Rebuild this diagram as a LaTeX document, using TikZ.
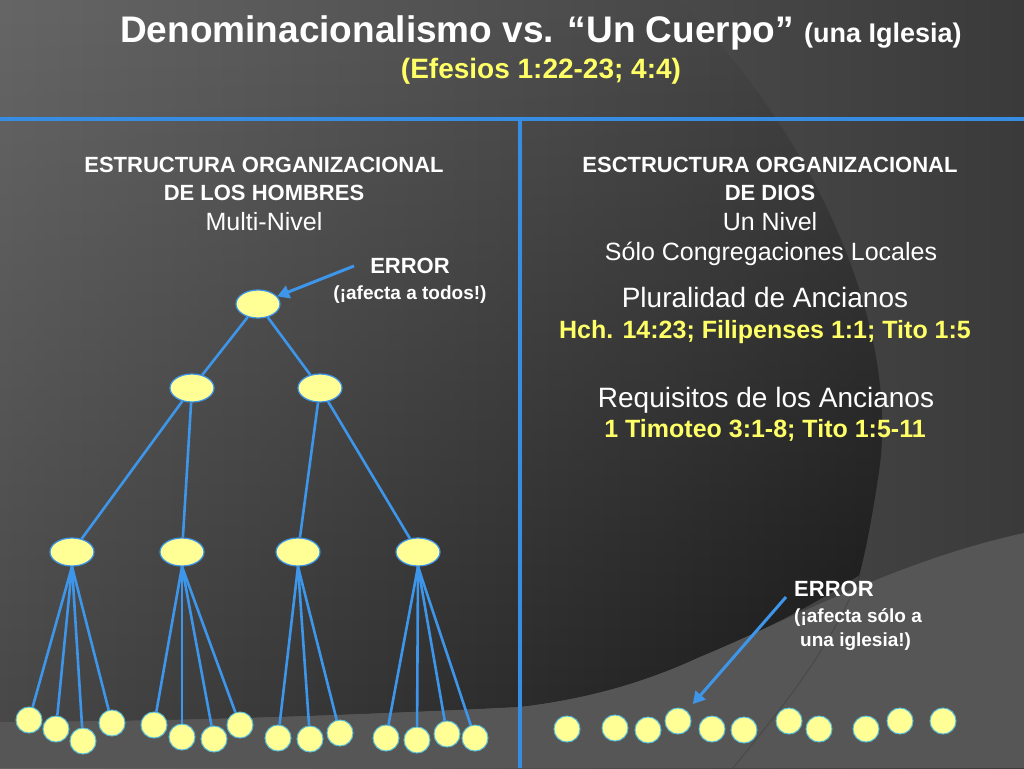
\documentclass[tikz,border=0pt]{standalone}
\usepackage{fontspec}
\setmainfont{Liberation Sans}
\usetikzlibrary{positioning,shapes.geometric,arrows.meta,fadings}

\definecolor{bluelin}{RGB}{62,150,235}
\definecolor{sepblue}{RGB}{55,140,228}
\definecolor{leafring}{RGB}{90,190,215}
\definecolor{pale}{RGB}{255,255,150}
\definecolor{refyel}{RGB}{255,255,102}
\definecolor{bgleft}{RGB}{102,102,102}
\definecolor{bgright}{RGB}{58,58,58}
\definecolor{darkleft}{RGB}{72,72,72}
\definecolor{darkright}{RGB}{22,22,22}
\definecolor{band}{RGB}{86,86,86}

\newcommand{\fs}[1]{\fontsize{#1}{#1}\selectfont}

\tikzset{
  hdr/.style={anchor=base, text=white, font=\bfseries\fs{22}},
  lvl/.style={anchor=base, text=white, font=\fs{25}},
  big/.style={anchor=base, text=white, font=\fs{28}},
  ref/.style={anchor=base, text=refyel, font=\bfseries\fs{25}},
  errtxt/.style={text=white, font=\bfseries\fs{19}, inner sep=0pt},
  oval/.style={ellipse, draw=bluelin, line width=1.2pt, fill=pale, minimum width=44, minimum height=28, inner sep=0pt},
  cong/.style={circle, draw=leafring, line width=1pt, fill=pale, minimum size=26, inner sep=0pt},
  link/.style={draw=bluelin, line width=2.6pt},
  errarrow/.style={draw=bluelin, line width=3pt, -{Triangle[length=12pt,width=13pt]}},
}

\begin{document}
\begin{tikzpicture}[x=1pt,y=-1pt]
	\useasboundingbox (0,0) rectangle (1024,768);
	% background
	\shade[left color=bgleft, right color=bgright] (0,0) rectangle (1024,768);
	\shade[left color=darkleft, right color=darkright, path fading=north]
		(0,0) -- (680,0) .. controls (820,140) and (900,330) .. (880,470)
		.. controls (874,510) and (868,545) .. (860,575)
		.. controls (800,615) and (720,650) .. (700,657)
		.. controls (640,685) and (580,700) .. (520,707)
		.. controls (300,718) and (120,722) .. (0,722) -- cycle;
	\fill[band] (0,722) .. controls (120,722) and (300,718) .. (520,707)
		.. controls (580,700) and (640,685) .. (700,657)
		.. controls (800,615) and (900,560) .. (1024,533) -- (1024,768) -- (0,768) -- cycle;
	\draw[black, opacity=.15, line width=1pt] (860,575) .. controls (830,650) and (780,710) .. (733,768);
	% separators
	\draw[sepblue, line width=4pt] (0,119) -- (1024,119);
	\draw[sepblue, line width=4pt] (520,119) -- (520,768);

	% titles
	\node[anchor=base, text=white, font=\bfseries\fs{37}] (title) at (541,42) {Denominacionalismo vs. “Un Cuerpo” {\fs{27}(una Iglesia)}};
	\node[anchor=base, text=refyel, font=\bfseries\fs{28}] (verse) at (541,78) {(Efesios 1:22-23; 4:4)};

	% left column
	\node[hdr] (hdrL1) at (264,172) {ESTRUCTURA ORGANIZACIONAL};
	\node[hdr] (hdrL2) at (264,200) {DE LOS HOMBRES};
	\node[lvl] (multi) at (264,230) {Multi-Nivel};
	\node[errtxt, font=\bfseries\fs{22}, anchor=base] (errL) at (410,273) {ERROR};
	\node[errtxt, anchor=base] (errLb) at (410,299) {(¡afecta a todos!)};

	% right column
	\node[hdr] (hdrR1) at (770,172) {ESCTRUCTURA ORGANIZACIONAL};
	\node[hdr] (hdrR2) at (770,200) {DE DIOS};
	\node[lvl] (uno) at (770,230) {Un Nivel};
	\node[lvl] (local) at (771,260) {Sólo Congregaciones Locales};
	\node[big] (plural) at (765,307) {Pluralidad de Ancianos};
	\node[ref] (plref) at (765,338) {Hch. 14:23; Filipenses 1:1; Tito 1:5};
	\node[big] (requis) at (766,407) {Requisitos de los Ancianos};
	\node[ref] (rqref) at (765,437) {1 Timoteo 3:1-8; Tito 1:5-11};
	\node[errtxt, font=\bfseries\fs{22}, anchor=base west] (errR) at (794,596) {ERROR};
	\node[errtxt, anchor=base west] (errRb) at (794,622) {(¡afecta sólo a};
	\node[errtxt, anchor=base west] (errRc) at (800,646) {una iglesia!)};

	% multi-level tree
	\node[oval] (top) at (258,304) {};
	\node[oval] (mid1) at (192,388) {};
	\node[oval] (mid2) at (320,388) {};
	\node[oval] (low1) at (72,552) {};
	\node[oval] (low2) at (182,552) {};
	\node[oval] (low3) at (298,552) {};
	\node[oval] (low4) at (418,552) {};
	\draw[link] (top) -- (mid1);
	\draw[link] (top) -- (mid2);
	\draw[link] (mid1) -- (low1);
	\draw[link] (mid1) -- (low2);
	\draw[link] (mid2) -- (low3);
	\draw[link] (mid2) -- (low4);
	\foreach \n/\x/\y/\p in {1/29/720/low1, 2/56/729/low1, 3/83/741/low1, 4/112/723/low1,
		5/154/725/low2, 6/182/737/low2, 7/214/739/low2, 8/240/725/low2,
		9/278/738/low3, 10/310/739/low3, 11/340/733/low3,
		12/386/738/low4, 13/417/740/low4, 14/447/734/low4, 15/475/738/low4}{
		\node[cong] (cg\n) at (\x,\y) {};
		\draw[link] (\p.south) -- (cg\n);
	}

	% local congregations
	\foreach \n/\x/\y in {1/567/729, 2/615/728, 3/648/730, 4/678/721, 5/712/729, 6/744/730,
		7/789/721, 8/819/729, 9/866/729, 10/900/721, 11/943/721}{
		\node[cong] (lc\n) at (\x,\y) {};
	}

	% error arrows
	\coordinate (tailL) at (354,266);
	\coordinate (tailR) at (786,597);
	\draw[errarrow] (tailL) -- (top);
	\draw[errarrow, shorten >=9pt] (tailR) -- (lc4);
\end{tikzpicture}
\end{document}
